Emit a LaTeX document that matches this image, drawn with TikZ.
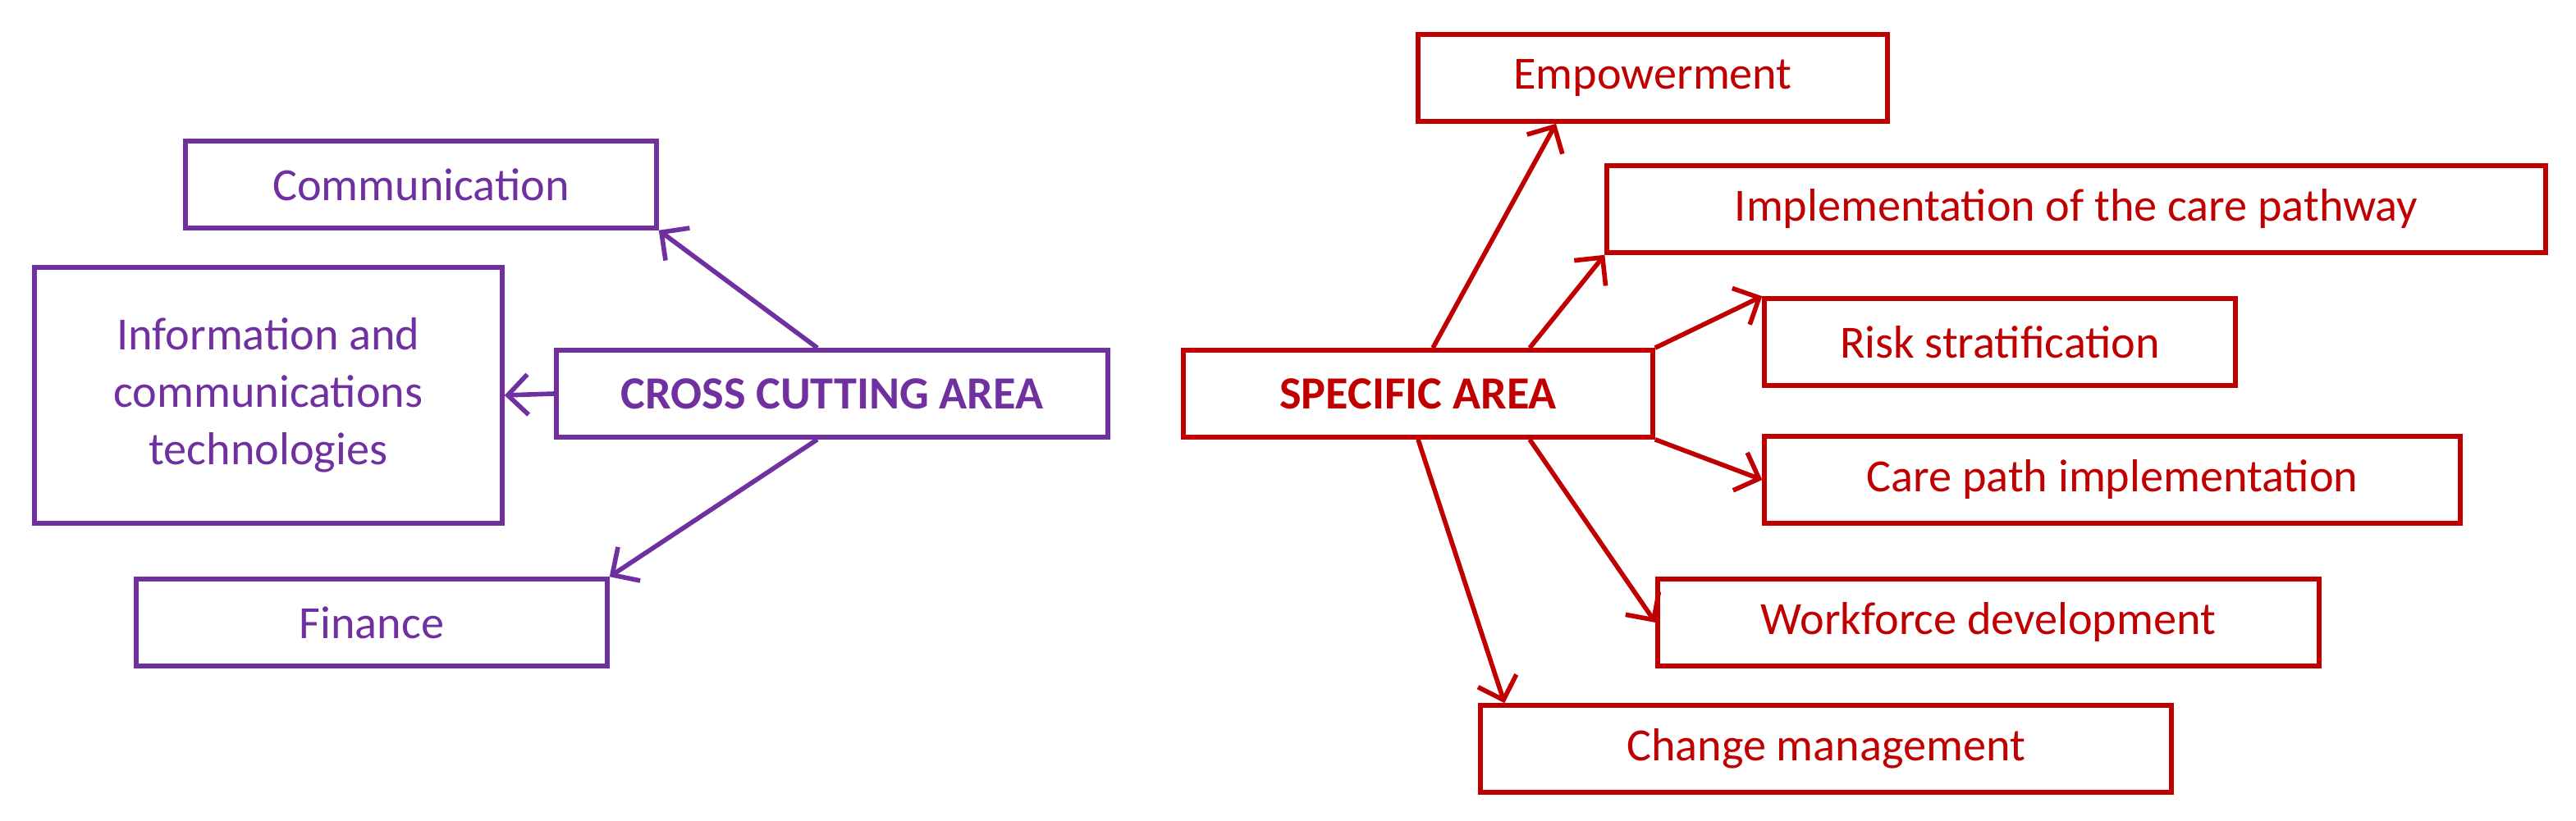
\documentclass[tikz,border=0pt]{standalone}
\usepackage{fontspec}
\setmainfont{Carlito}
\usetikzlibrary{arrows.meta}
\definecolor{pur}{RGB}{112,48,160}
\definecolor{rd}{RGB}{192,0,0}
\begin{document}
\begin{tikzpicture}[x=0.02cm,y=-0.02cm,
 box/.style={draw,line width=1.6pt,minimum height=1.06cm,inner sep=0pt,font=\fontsize{16}{20}\selectfont,align=center},
 pb/.style={box,pur,text=pur},
 rb/.style={box,rd,text=rd},
 ar/.style={line width=1.6pt,-{Straight Barb[length=7pt,width=14pt,line width=1.6pt]}}]
\useasboundingbox (0,0) rectangle (1569.5,500.5);
\node[pb,minimum width=5.74cm] (comm) at (256.5,112.5) {Communication};
\node[pb,minimum width=5.7cm,minimum height=3.12cm] (ict) at (163.5,241) {Information and\\communications\\technologies};
\node[pb,minimum width=5.74cm] (fin) at (226.5,379.5) {Finance};
\node[pb,minimum width=6.72cm,font=\fontsize{16}{20}\selectfont\bfseries] (cc) at (507,240) {CROSS CUTTING AREA};
\node[rb,minimum width=5.72cm,font=\fontsize{16}{20}\selectfont\bfseries] (sp) at (864,240) {SPECIFIC AREA};
\node[rb,minimum width=5.72cm] (emp) at (1007,47.5) {Empowerment};
\node[rb,minimum width=11.44cm] (impl) at (1265,127.5) {Implementation of the care pathway};
\node[rb,minimum width=5.74cm] (risk) at (1218.5,208.5) {Risk stratification};
\node[rb,minimum width=8.48cm] (care) at (1287,292.5) {Care path implementation};
\node[rb,minimum width=8.06cm] (work) at (1211.5,379.5) {Workforce development};
\node[rb,minimum width=8.42cm] (chg) at (1112.5,456.5) {Change management};
\draw[ar,pur] ([xshift=-0.18cm]cc.north) -- (comm.south east);
\draw[ar,pur] (cc.west) -- (ict.east);
\draw[ar,pur] ([xshift=-0.18cm]cc.south) -- (fin.north east);
\draw[ar,rd] ([xshift=0.18cm]sp.north) -- ([xshift=-1.18cm]emp.south);
\draw[ar,rd] ([xshift=1.36cm]sp.north) -- (impl.south west);
\draw[ar,rd] (sp.north east) -- (risk.north west);
\draw[ar,rd] (sp.south east) -- (care.west);
\draw[ar,rd] ([xshift=1.36cm]sp.south) -- (work.west);
\draw[ar,rd] (sp.south) -- ([xshift=0.32cm]chg.north west);
\end{tikzpicture}
\end{document}
